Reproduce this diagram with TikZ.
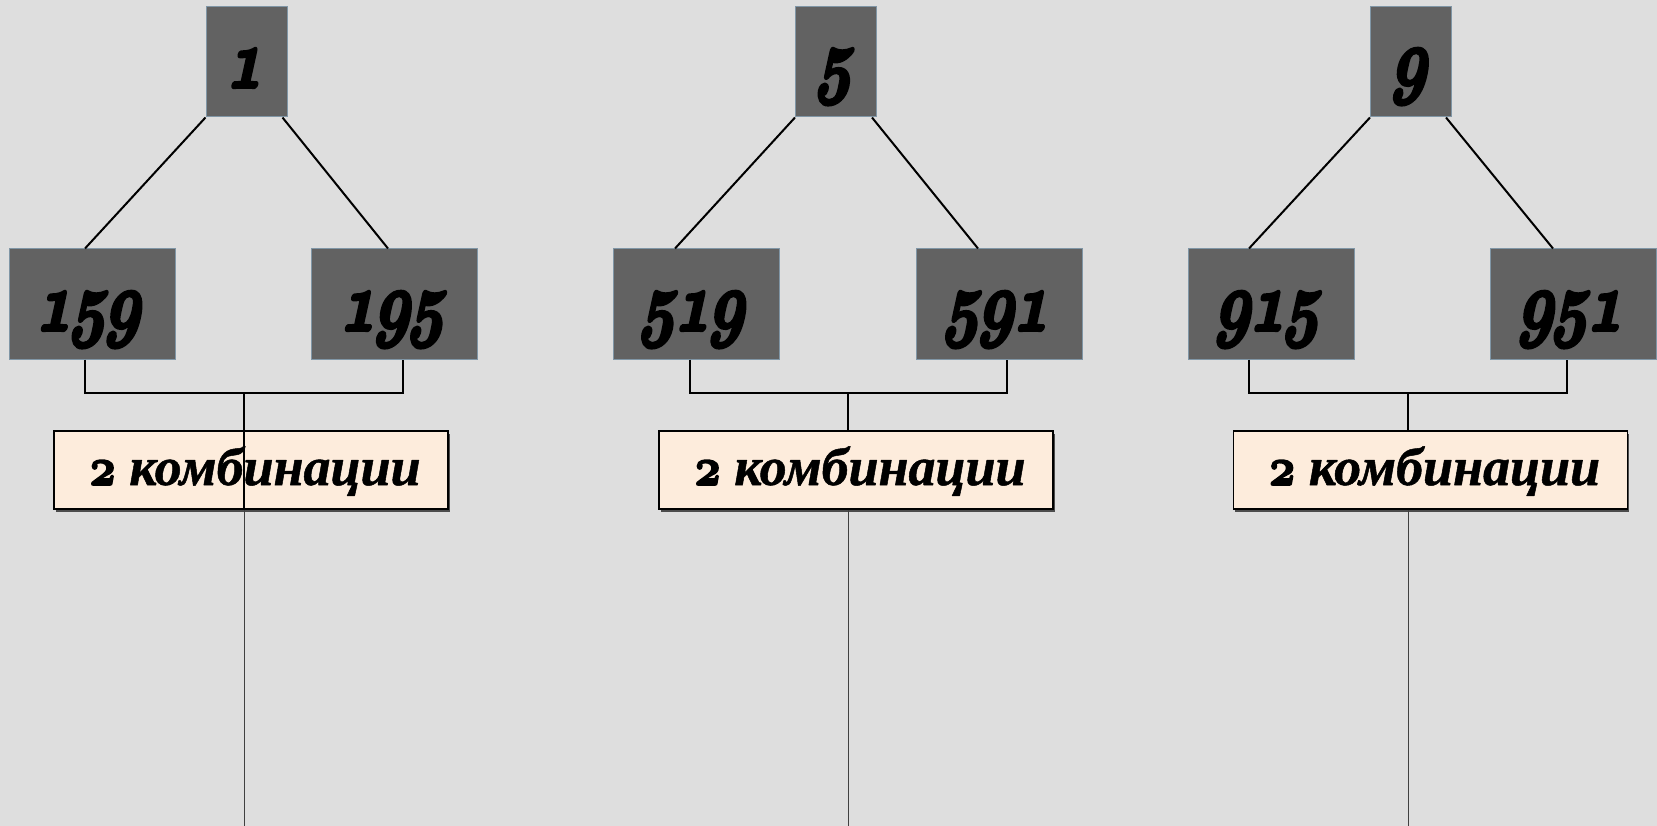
\documentclass[tikz,border=0pt]{standalone}
\usepackage{fontspec}
\usepackage{graphicx}
\setmainfont{Liberation Serif}
\usetikzlibrary{shadows}
\definecolor{bgc}{RGB}{222,222,222}
\definecolor{boxc}{RGB}{98,98,98}
\definecolor{boxedge}{RGB}{128,150,166}
\definecolor{lblc}{RGB}{253,236,220}
\newcommand\heavy[2]{\special{pdf:literal 2 Tr #1 w 1 j}#2\special{pdf:literal 0 Tr}}
\newcommand\osdig[4]{\scalebox{#1}[#2]{\fontsize{10}{12}\usefont{OML}{cmm}{b}{it}\heavy{#3}{#4}}}
\newcommand\dignode[4]{\begin{scope}[shift={(#1,#2)}]\node[dig] (#3) at (0,0) {\osdig{6.0}{8.3}{0.5}{#4}};\end{scope}}
\begin{document}
\begin{tikzpicture}[x=1pt,y=-1pt,
  topbox/.style={draw=boxedge, line width=1pt, fill=boxc, minimum width=81pt, minimum height=110pt, inner sep=0pt},
  kidbox/.style={draw=boxedge, line width=1pt, fill=boxc, minimum width=166pt, minimum height=110pt, inner sep=0pt},
  lblbox/.style={draw=black, line width=1.4pt, fill=lblc, minimum width=394pt, minimum height=78pt, inner sep=0pt,
     drop shadow={shadow xshift=1.5pt, shadow yshift=-2.5pt, fill=black!70, opacity=1}},
  dig/.style={anchor=base, inner sep=0pt, xslant=0.22, transform shape},
  lbltxt/.style={anchor=base, inner sep=0pt, font=\fontsize{54}{62}\selectfont\bfseries\itshape},
  conn/.style={line width=2pt, black},
  brk/.style={line width=1.8pt, black},
  thinline/.style={line width=0.8pt, black!75}]
\fill[bgc] (0,0) rectangle (1657,826);
\useasboundingbox (0,0) rectangle (1657,826);

% ---------- group 1
\node[topbox] (T1) at (246.5,62) {};
\node[kidbox] (L1) at (92,304) {};
\node[kidbox] (R1) at (394.5,304) {};
\dignode{244}{87}{t1}{1}
\dignode{88}{330}{l1}{159}
\dignode{392}{330}{r1}{195}
\node[lblbox] (K1) at (251,470) {};
\node[lbltxt] (k1) at (255,485) {\osdig{4.6}{5.4}{0.3}{2} \heavy{0.5}{комбинации}};
\coordinate (J1) at (244,393);
\coordinate (E1) at (244,826);
\draw[conn] (T1.south west) -- ([xshift=-7pt]L1.north);
\draw[conn] ([xshift=-5pt]T1.south east) -- ([xshift=-6.5pt]R1.north);
\draw[brk] ([xshift=-7pt]L1.south) |- (J1) -| ([xshift=8.5pt]R1.south);
\draw[brk] (J1) -- (K1.south -| J1);
\draw[thinline] (K1.south -| J1) -- (E1);

% ---------- group 2
\node[topbox] (T2) at (836,62) {};
\node[kidbox] (L2) at (696,304) {};
\node[kidbox] (R2) at (999,304) {};
\dignode{834}{87}{t2}{5}
\dignode{692}{330}{l2}{519}
\dignode{996}{330}{r2}{591}
\node[lblbox] (K2) at (856,470) {};
\node[lbltxt] (k2) at (860,485) {\osdig{4.6}{5.4}{0.3}{2} \heavy{0.5}{комбинации}};
\coordinate (J2) at (848,393);
\coordinate (E2) at (848,826);
\draw[conn] (T2.south west) -- ([xshift=-21pt]L2.north);
\draw[conn] ([xshift=-5pt]T2.south east) -- ([xshift=-21pt]R2.north);
\draw[brk] ([xshift=-6pt]L2.south) |- (J2) -| ([xshift=8pt]R2.south);
\draw[brk] (J2) -- (K2.north -| J2);
\draw[thinline] (K2.south -| J2) -- (E2);

% ---------- group 3
\node[topbox] (T3) at (1411,62) {};
\node[kidbox] (L3) at (1271,304) {};
\node[kidbox] (R3) at (1573.5,304) {};
\dignode{1409}{87}{t3}{9}
\dignode{1267}{330}{l3}{915}
\dignode{1570}{330}{r3}{951}
\node[lblbox] (K3) at (1430.5,470) {};
\node[lbltxt] (k3) at (1434.5,485) {\osdig{4.6}{5.4}{0.3}{2} \heavy{0.5}{комбинации}};
\coordinate (J3) at (1408,393);
\coordinate (E3) at (1408,826);
\draw[conn] (T3.south west) -- ([xshift=-22pt]L3.north);
\draw[conn] ([xshift=-6pt]T3.south east) -- ([xshift=-20.5pt]R3.north);
\draw[brk] ([xshift=-22pt]L3.south) |- (J3) -| ([xshift=-6.5pt]R3.south);
\draw[brk] (J3) -- (K3.north -| J3);
\draw[thinline] (K3.south -| J3) -- (E3);
\end{tikzpicture}
\end{document}
